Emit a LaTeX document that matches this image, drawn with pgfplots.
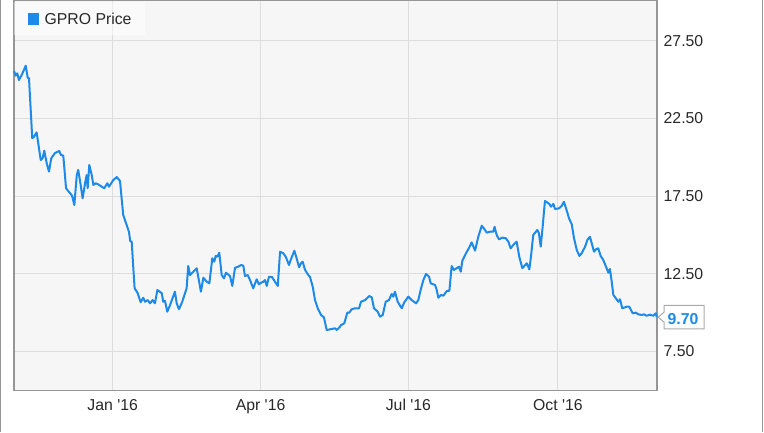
\documentclass[border=0pt]{standalone}
\usepackage{fontspec}
\setmainfont{Liberation Sans}
\usepackage{pgfplots}
\pgfplotsset{compat=1.18}

\definecolor{gproblue}{RGB}{30,138,232}
\definecolor{plotbg}{RGB}{246,246,246}
\definecolor{gridgray}{RGB}{221,221,221}
\definecolor{framegray}{RGB}{150,150,150}
\definecolor{boxgray}{RGB}{170,170,170}
\definecolor{labeltext}{RGB}{40,40,40}

% GPRO daily close, x = days from 1 Jan 2016
\pgfplotstableread{
day price
-60.7 25.55
-59.7 25.25
-58.7 25.40
-57.7 24.97
-56.0 25.29
-53.5 25.89
-52.3 25.12
-51.5 25.08
-49.5 21.22
-48.4 21.32
-46.8 21.60
-44.3 19.82
-43.1 19.93
-42.1 20.42
-40.6 19.61
-39.2 19.07
-37.8 19.93
-35.5 20.27
-32.9 20.40
-31.8 20.14
-30.4 20.10
-28.7 18.00
-26.7 17.74
-25.0 17.52
-23.6 16.92
-22.1 18.85
-21.2 19.18
-19.7 18.21
-18.5 17.35
-17.0 18.32
-16.0 18.85
-15.4 18.00
-14.4 19.50
-12.9 18.85
-11.9 18.21
-10.5 18.32
-8.9 18.25
-5.2 18.00
-3.3 18.32
-2.3 18.10
0.4 18.53
2.5 18.72
4.5 18.47
5.5 17.35
6.5 16.28
8.6 15.63
10.0 15.20
10.8 14.60
11.7 14.56
12.7 12.85
13.5 11.56
15.4 11.24
17.2 10.66
18.8 10.95
19.9 10.69
21.5 10.80
23.0 10.59
24.6 10.80
26.0 10.59
27.5 11.45
30.2 11.24
31.1 10.69
32.2 10.74
33.6 10.05
35.3 10.48
38.3 11.34
39.4 10.59
40.8 10.21
42.8 10.69
45.5 11.56
46.5 12.99
47.6 12.41
49.6 12.63
51.7 12.85
54.3 11.34
55.8 12.24
57.9 11.98
59.5 11.88
61.3 13.49
62.5 13.27
63.4 13.64
64.4 13.59
65.6 13.85
67.1 12.41
68.5 12.20
69.7 12.56
72.2 12.35
73.6 11.71
75.3 12.88
77.3 12.95
79.0 13.06
80.4 13.01
81.4 12.35
83.1 12.41
84.5 12.09
86.5 11.56
88.6 12.14
90.0 11.81
91.3 11.92
92.7 11.98
93.7 12.09
94.8 11.71
96.2 12.30
97.9 12.30
99.9 11.98
101.6 11.71
103.0 13.91
105.0 13.81
106.5 13.59
108.5 13.06
109.7 13.43
111.8 13.98
113.2 13.49
114.7 12.91
115.9 13.17
116.9 13.27
118.4 12.74
120.4 12.41
121.4 12.30
123.1 11.66
124.5 10.80
126.2 10.27
128.2 9.84
130.0 9.69
131.7 8.87
134.8 8.94
136.8 8.98
137.9 8.87
139.9 9.09
140.5 9.19
142.5 9.30
144.4 9.99
145.6 9.99
147.1 10.21
149.1 10.27
151.6 10.27
152.8 10.69
155.3 10.80
157.9 11.06
159.4 10.98
160.8 10.27
163.1 10.05
164.5 9.73
166.2 9.84
168.0 10.69
170.0 10.80
171.7 11.19
172.7 11.02
173.7 11.34
175.4 10.69
177.9 10.27
179.3 10.63
181.9 11.02
184.0 10.80
186.7 10.59
188.1 10.80
189.5 11.45
191.2 12.09
192.8 12.48
194.7 12.30
195.7 11.88
198.4 11.77
199.4 11.45
200.4 10.95
202.0 11.13
203.5 11.08
205.6 11.38
207.2 11.40
208.6 12.99
210.0 12.74
211.7 12.85
213.1 12.95
214.2 12.63
215.2 13.34
217.4 13.81
219.5 14.20
220.9 14.52
223.0 13.98
225.0 14.88
227.1 15.59
228.7 15.38
230.2 15.14
232.2 15.20
234.2 15.20
235.0 15.52
236.3 14.99
237.7 14.71
239.8 14.82
241.9 14.78
243.5 14.56
244.9 14.13
246.5 14.35
248.6 14.56
250.2 13.59
252.1 12.85
254.8 13.17
256.4 12.78
257.4 13.59
258.8 14.99
261.3 15.31
262.3 15.10
263.4 14.24
264.6 15.52
266.0 17.18
268.7 16.99
269.7 16.81
271.2 16.99
272.2 16.66
274.7 16.71
276.3 16.86
277.7 17.13
279.8 16.43
280.8 16.07
282.5 15.68
283.9 14.78
285.6 14.02
287.2 13.64
288.6 13.81
290.7 14.24
292.1 14.67
293.7 14.88
294.8 14.46
296.2 13.91
297.4 14.07
298.8 14.13
300.3 13.64
301.9 13.38
303.6 12.95
305.0 12.56
306.0 12.80
307.1 11.98
308.1 11.13
309.7 10.91
311.2 10.69
312.2 10.85
313.6 10.27
316.3 10.37
317.9 10.37
320.0 9.95
322.0 9.99
323.5 9.88
325.6 9.84
327.0 9.88
328.6 9.79
330.7 9.86
332.7 9.79
334.2 9.95
334.8 9.70
}\gprodata

\begin{document}
\begin{tikzpicture}[x=1bp,y=1bp]
\useasboundingbox (0,0) rectangle (764,432);
\fill[white] (0,0) rectangle (764,432);
\draw[framegray, line width=1.3bp] (0.7,0) -- (0.7,432);
\draw[framegray, line width=1.3bp] (762.3,0) -- (762.3,432);
\begin{axis}[
  at={(14bp,41.5bp)}, anchor=south west,
  scale only axis, width=643bp, height=390.5bp,
  xmin=-60.73, xmax=334.97, ymin=4.977, ymax=30.121,
  axis background/.style={fill=plotbg},
  axis line style={framegray, line width=1.2bp},
  grid=major, major grid style={gridgray, line width=1bp},
  xtick={0,91,182,274},
  xticklabels={Jan \textquotesingle16, Apr \textquotesingle16, Jul \textquotesingle16, Oct \textquotesingle16},
  ytick={7.5,12.5,17.5,22.5,27.5},
  yticklabels={7.50,12.50,17.50,22.50,27.50},
  yticklabel pos=right,
  major tick length=0pt,
  tick label style={font=\fontsize{15.8bp}{18bp}\selectfont, text=labeltext, inner sep=0pt},
  yticklabel style={anchor=west, xshift=6.5bp},
  xticklabel style={anchor=base, yshift=-20.2bp},
  clip=false,
  legend style={at={(0,1)}, anchor=north west, yshift=-2.3bp, draw=none,
    fill=white, fill opacity=0.45, text opacity=1,
    inner xsep=13.7bp, inner ysep=8bp,
    font=\fontsize{15.8bp}{18bp}\selectfont, text=labeltext,
    nodes={inner sep=0pt, text height=14.15bp, text depth=2.85bp},
    /tikz/every odd column/.append style={column sep=5.5bp}},
  legend image code/.code={%
    \fill[gproblue, draw=none, fill opacity=1] (0bp,-5.6bp) rectangle (11.2bp,5.6bp);},
]
\addplot[gproblue, line width=2bp, line join=round] table[x=day, y=price] {\gprodata};
\addlegendentry{GPRO Price}
% last-price callout
\draw[boxgray, fill=white, line width=1bp] (axis cs:334.8,9.70) ++(1.5bp,0bp) -- ++(5.8bp,5bp) -- ++(0bp,6.7bp) -- ++(40bp,0bp) -- ++(0bp,-23.4bp) -- ++(-40bp,0bp) -- ++(0bp,6.7bp) -- cycle;
\node[text=gproblue, font=\fontsize{15.8bp}{18bp}\selectfont\bfseries, inner sep=0pt, xshift=26.3bp, yshift=-1.5bp] at (axis cs:334.8,9.70) {9.70};
\end{axis}
\end{tikzpicture}
\end{document}
